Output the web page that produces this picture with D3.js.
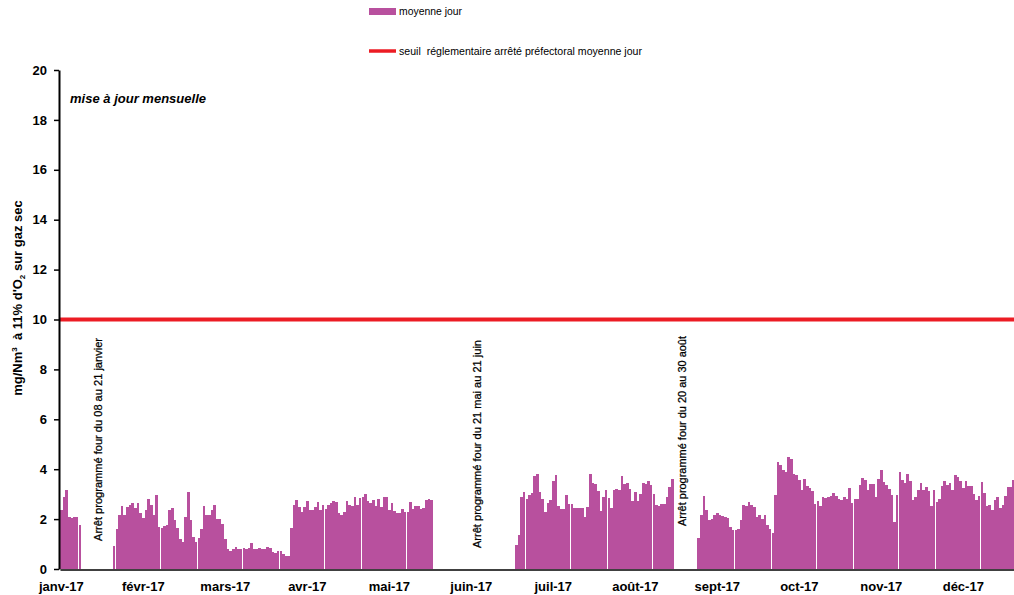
<!DOCTYPE html>
<html lang="fr">
<head>
<meta charset="utf-8">
<title>Moyenne jour 2017</title>
<script src="https://cdn.jsdelivr.net/npm/d3@7"></script>
<style>
  body { margin: 0; background: #fff; }
  svg { display: block; }
  text { font-family: "Liberation Sans", Arial, Helvetica, sans-serif; fill: #000; }
</style>
</head>
<body>
<svg id="chart" width="1014" height="595"></svg>
<script>
// Daily means (mg/Nm3 at 11% O2, dry gas), one array per month; null = kiln stopped
const janValues = [2.38, 2.9, 3.18, 2.08, 2.05, 2.09, 2.09, 1.77,
  null, null, null, null, null, null, null, null, null, null, null, null,
  0.93, 1.61, 2.17, 2.54, 2.17, 2.5, 2.56, 2.66, 2.46, 2.66, 2.26];
const febValues = [2.05, 2.38, 2.82, 2.56, 2.17, 2.98, 1.69, 1.65, 1.73, 1.75,
  2.38, 2.46, 1.95, 1.65, 1.2, 1.1, 2.1, 3.1, 1.95, 1.3,
  1.1, 1.25, 1.6, 2.54, 2.17, 2.17, 2.35, 2.58];
const marValues = [2.0, 2.0, 1.8, 1.22, 0.8, 0.72, 0.8, 0.88, 0.8, 0.8,
  0.85, 0.8, 0.85, 1.05, 0.8, 0.8, 0.85, 0.8, 0.8, 0.88,
  0.85, 0.68, 0.64, 0.72, 0.72, 0.6, 0.52, 0.52, 1.65, 2.58, 2.78];
const aprValues = [2.5, 2.3, 2.5, 2.74, 2.38, 2.38, 2.5, 2.7, 2.38, 2.58,
  2.42, 2.58, 2.64, 2.74, 2.7, 2.25, 2.17, 2.3, 2.74, 2.58,
  2.54, 2.9, 2.58, 2.86, 2.9, 3.02, 2.74, 2.66, 2.78, 2.54];
const mayValues = [2.82, 2.5, 2.9, 2.9, 2.38, 2.66, 2.34, 2.25, 2.25, 2.42,
  2.3, 2.3, 2.7, 2.42, 2.54, 2.54, 2.42, 2.46, 2.78, 2.82, 2.78,
  null, null, null, null, null, null, null, null, null, null];
const junValues = [null, null, null, null, null, null, null, null, null, null,
  null, null, null, null, null, null, null, null, null, null, null,
  0.97, 1.37, 2.9, 3.1, 2.82, 2.98, 3.06, 3.74, 3.82];
const julValues = [3.1, 2.82, 2.3, 2.66, 2.78, 3.54, 3.78, 2.54, 2.42, 2.42,
  2.98, 2.62, 2.62, 2.46, 2.46, 2.46, 2.46, 2.1, 2.5, 3.82,
  3.46, 3.42, 3.14, 2.34, 2.9, 3.18, 2.86, 2.46, 3.18, 3.2, 3.18];
const augValues = [3.74, 3.42, 3.46, 3.22, 2.74, 3.1, 2.74, 3.02, 3.46, 3.42,
  3.54, 3.38, 3.02, 2.58, 2.54, 2.62, 2.62, 2.9, 3.3, 3.62,
  null, null, null, null, null, null, null, null, null,
  1.25, 2.17];
const sepValues = [2.94, 2.38, 1.95, 2.0, 2.17, 2.25, 2.17, 2.13, 2.1, 2.05,
  1.68, 1.55, 1.55, 1.62, 1.97, 2.58, 2.54, 2.7, 2.58, 2.5,
  2.1, 2.17, 2.0, 2.17, 1.77, 1.61, 1.45, 2.98, 4.3, 4.15];
const octValues = [3.98, 3.9, 4.47, 4.39, 3.82, 3.78, 3.58, 3.18, 3.62, 3.34,
  3.26, 3.14, 2.62, 2.74, 2.54, 2.9, 2.86, 2.9, 2.94, 3.06,
  2.94, 2.82, 2.78, 2.9, 2.82, 3.26, 2.66, 2.82, 2.82, 3.38, 3.66];
const novValues = [3.58, 3.18, 3.42, 3.42, 2.9, 3.62, 3.95, 3.5, 3.38, 3.22,
  2.98, 1.89, 2.98, 3.9, 3.58, 3.46, 3.82, 3.54, 2.78, 2.9,
  3.18, 3.46, 3.18, 3.3, 3.14, 2.54, 3.18, 2.7, 2.82, 3.34];
const decValues = [3.54, 3.38, 3.46, 3.18, 3.78, 3.7, 3.54, 3.26, 3.54, 3.34,
  3.34, 3.02, 2.78, 2.94, 3.5, 3.06, 2.54, 2.58, 2.38, 2.78,
  2.9, 2.46, 2.58, 2.94, 3.3, 3.3, 3.58];

const monthTickLabels = ["janv-17", "févr-17", "mars-17", "avr-17", "mai-17", "juin-17",
  "juil-17", "août-17", "sept-17", "oct-17", "nov-17", "déc-17"];
const yTickValues = [0, 2, 4, 6, 8, 10, 12, 14, 16, 18, 20];
const thresholdValue = 10;
const seriesLabel = "moyenne jour";
const thresholdLabel = "seuil  réglementaire arrêté préfectoral moyenne jour";
const updateNote = "mise à jour mensuelle";
const stopNotes = [
  "Arrêt programmé four du 08 au 21 janvier",
  "Arrêt programmé four du 21 mai au 21 juin",
  "Arrêt programmé four du 20 au 30 août"
];

const BAR_COLOR = "#B8509E";
const LINE_COLOR = "#EC1C24";

const dailyValues = [].concat(janValues, febValues, marValues, aprValues, mayValues, junValues,
  julValues, augValues, sepValues, octValues, novValues, decValues);
const dayIndex = d3.range(365);
const points = dayIndex.map(i => ({ i, v: dailyValues[i] == null ? null : dailyValues[i] }));

const svg = d3.select("#chart");

const plotLeft = 60, plotTop = 70, plotBottom = 569, dayStep = 2.645;
const x = d3.scaleBand()
  .domain(dayIndex)
  .range([plotLeft, plotLeft + 365 * dayStep])
  .paddingInner(0.02)
  .paddingOuter(0);
const y = d3.scaleLinear().domain([0, 20]).range([plotBottom, plotTop]);

// daily bars
svg.append("g")
  .attr("shape-rendering", "crispEdges")
  .selectAll("rect")
  .data(points.filter(d => d.v != null))
  .join("rect")
  .attr("x", d => x(d.i))
  .attr("width", x.bandwidth())
  .attr("y", d => y(d.v))
  .attr("height", d => y(0) - y(d.v))
  .attr("fill", BAR_COLOR);

// regulatory threshold
svg.append("line")
  .attr("x1", x.range()[0]).attr("x2", x.range()[1])
  .attr("y1", y(thresholdValue)).attr("y2", y(thresholdValue))
  .attr("stroke", LINE_COLOR).attr("stroke-width", 4);

// y axis
const yAxis = svg.append("g")
  .attr("transform", `translate(${plotLeft - 1},0)`)
  .call(d3.axisLeft(y).tickValues(yTickValues).tickSize(5).tickSizeOuter(0).tickPadding(7));
yAxis.select(".domain").attr("stroke", "#000").attr("stroke-width", 2);
yAxis.selectAll(".tick line").attr("stroke", "#000").attr("stroke-width", 1.5);
yAxis.selectAll(".tick text")
  .attr("font-size", 13).attr("font-weight", "bold")
  .attr("font-family", "Liberation Sans, Arial, sans-serif").attr("fill", "#000");

// x axis: a label every 31 days
const xAxis = svg.append("g")
  .attr("transform", `translate(0,${plotBottom + 0.5})`)
  .call(d3.axisBottom(x)
    .tickValues(d3.range(0, 365, 31))
    .tickFormat((d, k) => monthTickLabels[k])
    .tickSize(0).tickSizeOuter(0).tickPadding(12));
xAxis.select(".domain").attr("stroke", "#000").attr("stroke-width", 1.5);
xAxis.selectAll(".tick text")
  .attr("font-size", 13).attr("font-weight", "bold")
  .attr("font-family", "Liberation Sans, Arial, sans-serif").attr("fill", "#000");

// y axis title
const yTitle = svg.append("text")
  .attr("transform", "translate(22,298) rotate(-90)")
  .attr("text-anchor", "middle")
  .attr("font-size", 13).attr("font-weight", "bold")
  .style("white-space", "pre");
yTitle.append("tspan").text("mg/Nm");
yTitle.append("tspan").attr("font-size", 8).attr("dy", -5).text("3");
yTitle.append("tspan").attr("dy", 5).text("  à 11% d'O");
yTitle.append("tspan").attr("font-size", 8).attr("dy", 3).text("2");
yTitle.append("tspan").attr("dy", -3).text(" sur gaz sec");

// note
svg.append("text")
  .attr("x", 70).attr("y", 103)
  .attr("font-size", 12.5).attr("font-style", "italic").attr("font-weight", "bold")
  .attr("textLength", 136).attr("lengthAdjust", "spacingAndGlyphs")
  .text(updateNote);

// vertical notes for the kiln stops
const notePlacement = [
  { cx: 101.5, bottom: 541, len: 203 },
  { cx: 481, bottom: 548, len: 208 },
  { cx: 685.5, bottom: 526, len: 190 }
];
stopNotes.forEach((t, k) => {
  const p = notePlacement[k];
  svg.append("text")
    .attr("transform", `translate(${p.cx},${p.bottom}) rotate(-90)`)
    .attr("font-size", 11)
    .attr("stroke", "#000").attr("stroke-width", 0.25)
    .attr("textLength", p.len).attr("lengthAdjust", "spacingAndGlyphs")
    .text(t);
});

// legend
const legend = svg.append("g");
legend.append("rect").attr("x", 369).attr("y", 8).attr("width", 27).attr("height", 7).attr("fill", BAR_COLOR);
legend.append("text").attr("x", 399).attr("y", 15).attr("font-size", 10)
  .attr("textLength", 63).attr("lengthAdjust", "spacingAndGlyphs").text(seriesLabel);
legend.append("line").attr("x1", 369).attr("x2", 396).attr("y1", 51).attr("y2", 51)
  .attr("stroke", LINE_COLOR).attr("stroke-width", 3.5);
legend.append("text").attr("x", 399).attr("y", 55).attr("font-size", 10)
  .style("white-space", "pre")
  .attr("textLength", 243).attr("lengthAdjust", "spacingAndGlyphs").text(thresholdLabel);
</script>
</body>
</html>
